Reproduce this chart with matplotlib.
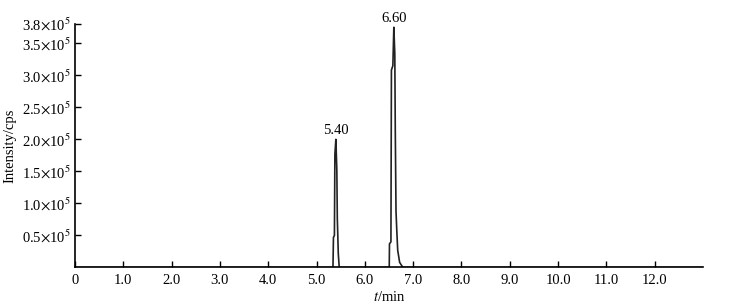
import numpy as np
import matplotlib
matplotlib.use('Agg')
import matplotlib.pyplot as plt

#%% datos del cromatograma
tiempo = [0.0,
          5.34, 5.35, 5.37, 5.38, 5.40, 5.42, 5.43, 5.44, 5.45, 5.47,
          6.505, 6.51, 6.54, 6.55, 6.58, 6.60, 6.62, 6.63, 6.645, 6.66, 6.68, 6.72, 6.78, 6.82,
          13.0]
intensidad = [0,
              0, 0.47, 0.5, 1.77, 2.0, 1.52, 0.77, 0.5, 0.22, 0,
              0, 0.37, 0.40, 3.08, 3.15, 3.75, 3.34, 2.15, 0.88, 0.6, 0.27, 0.08, 0.01, 0,
              0]  # x 10^5
picos_t = [5.40, 6.60]
picos_h = [2.0, 3.75]
xticks = [0, 1, 2, 3, 4, 5, 6, 7, 8, 9, 10, 11, 12]
xlabels = ['0', '1.0', '2.0', '3.0', '4.0', '5.0', '6.0', '7.0', '8.0', '9.0', '10.0', '11.0', '12.0']
yticks = [0.5, 1.0, 1.5, 2.0, 2.5, 3.0, 3.5, 3.8]

#%% graficar
plt.rcParams['font.family'] = 'Liberation Serif'
plt.rcParams['mathtext.fontset'] = 'stix'

fig = plt.figure(figsize=(7.31, 3.08), dpi=100)
ax = fig.add_axes([0.1026, 0.1315, 0.8591, 0.7905])
ax.plot(np.array(tiempo), np.array(intensidad) * 1e5, color='#222222', lw=1.2)

for t, h in zip(picos_t, picos_h):
    ax.annotate('%.2f' % t, (t, h * 1e5), xytext=(0, 1.5), textcoords='offset points',
                ha='center', va='bottom', fontsize=10.5, annotation_clip=False)

ax.set_xlim(0, 13.0)
ax.set_ylim(0, 3.8e5)
ax.set_xticks(xticks)
ax.set_xticklabels(xlabels)
ax.set_yticks([y * 1e5 for y in yticks])
ax.set_yticklabels([r'%.1f$\times$10$^5$' % y for y in yticks])
ax.tick_params(direction='in', length=4, width=1, labelsize=10.5)
ax.tick_params(axis='x', pad=5)
ax.tick_params(axis='y', pad=3)
ax.spines['top'].set_visible(False)
ax.spines['right'].set_visible(False)
ax.spines['left'].set_linewidth(1.2)
ax.spines['bottom'].set_linewidth(1.2)

ax.set_xlabel(r'$t$/min', fontsize=10.5, labelpad=2)
ax.set_ylabel('Intensity/cps', fontsize=10.5, labelpad=4)

fig.savefig('out.png', dpi=100)
